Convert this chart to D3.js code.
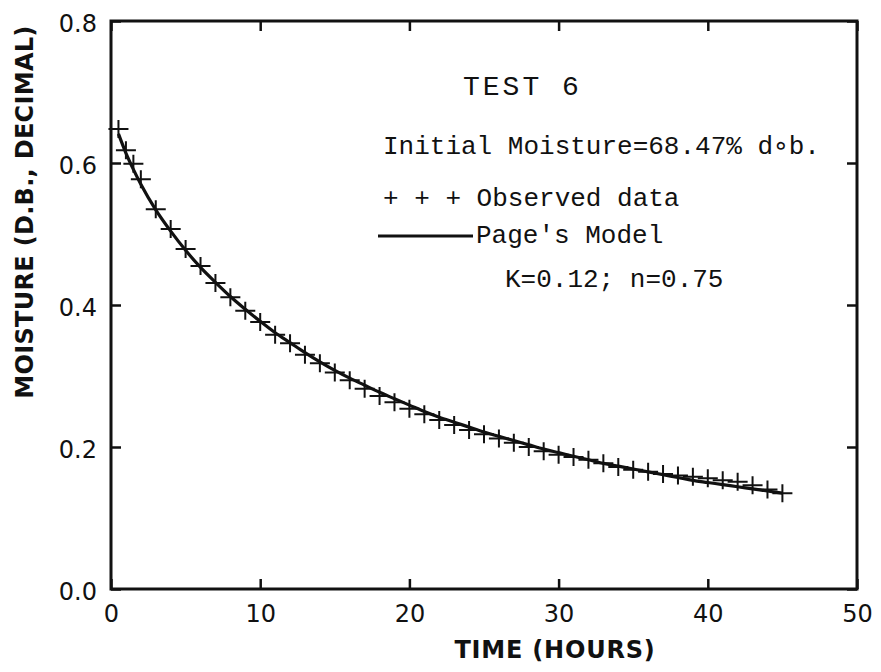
<!DOCTYPE html>
<html>
<head>
<meta charset="utf-8">
<script src="https://cdn.jsdelivr.net/npm/d3@7"></script>
<style>
  body { margin: 0; background: #fff; }
  svg { display: block; }
</style>
</head>
<body>
<div id="chart"></div>
<script>
// observed drying data (test 6)
const obsHours = [0.5, 1, 1.5, 2, 3, 4, 5, 6, 7, 8, 9, 10, 11, 12, 13, 14, 15, 16, 17, 18, 19, 20,
  21, 22, 23, 24, 25, 26, 27, 28, 29, 30, 31, 32, 33, 34, 35, 36, 37, 38, 39, 40, 41, 42, 43, 44, 45];
const obsMoisture = [0.648, 0.618, 0.599, 0.577, 0.535, 0.507, 0.479, 0.455, 0.431, 0.411, 0.392, 0.376,
  0.358, 0.346, 0.330, 0.318, 0.305, 0.294, 0.282, 0.272, 0.263, 0.254, 0.246, 0.238, 0.231, 0.224,
  0.218, 0.212, 0.206, 0.200, 0.194, 0.189, 0.186, 0.182, 0.177, 0.172, 0.168, 0.165, 0.162, 0.160,
  0.158, 0.156, 0.153, 0.151, 0.146, 0.140, 0.135];

// Page's model curve as drawn
const modelHours = obsHours;
const modelMoisture = [0.641, 0.614, 0.591, 0.570, 0.534, 0.504, 0.477, 0.453, 0.432, 0.412, 0.394, 0.377,
  0.361, 0.347, 0.333, 0.320, 0.308, 0.297, 0.287, 0.277, 0.268, 0.259, 0.250, 0.242, 0.235, 0.228,
  0.221, 0.215, 0.209, 0.203, 0.197, 0.192, 0.187, 0.182, 0.177, 0.173, 0.169, 0.165, 0.161, 0.157,
  0.153, 0.150, 0.147, 0.144, 0.141, 0.138, 0.135];

const xTicks = [0, 10, 20, 30, 40, 50];
const yTicks = [0, 0.2, 0.4, 0.6, 0.8];

const notes = [
  { text: "TEST 6", x: 463, y: 95, size: 28, spacing: 3 },
  { text: "Initial Moisture=68.47% d\u2218b.", x: 383, y: 154, size: 26, spacing: 0 },
  { text: "+ + + Observed data", x: 383, y: 206, size: 26, spacing: 0 },
  { text: "Page's Model", x: 476, y: 243, size: 26, spacing: 0 },
  { text: "K=0.12; n=0.75", x: 505, y: 287, size: 26, spacing: 0 }
];

const W = 881, H = 672;
const margin = { top: 21, right: 24, bottom: 83, left: 111 };
const width = W - margin.left - margin.right;
const height = H - margin.top - margin.bottom;

const svg = d3.select("#chart")
  .append("svg")
  .attr("width", W)
  .attr("height", H);

svg.append("rect").attr("width", W).attr("height", H).attr("fill", "#fff");

const g = svg.append("g")
  .attr("transform", `translate(${margin.left},${margin.top})`);

const x = d3.scaleLinear().domain([0, 50]).range([0, width]);
const y = d3.scaleLinear().domain([0, 0.8]).range([height, 0]);

const sans = "'DejaVu Sans', sans-serif";
const mono = "'Liberation Mono', 'DejaVu Sans Mono', monospace";

// bottom axis with inward ticks
const xAxis = g.append("g")
  .attr("transform", `translate(0,${height})`)
  .call(d3.axisBottom(x).tickValues(xTicks).tickSize(-10).tickPadding(16).tickFormat(d3.format("d")));
// top ticks
const xTop = g.append("g")
  .call(d3.axisTop(x).tickValues(xTicks).tickSize(-10).tickFormat(""));

const yAxis = g.append("g")
  .call(d3.axisLeft(y).tickValues(yTicks).tickSize(-10).tickPadding(14).tickFormat(d3.format(".1f")));
const yRight = g.append("g")
  .attr("transform", `translate(${width},0)`)
  .call(d3.axisRight(y).tickValues(yTicks).tickSize(-10).tickFormat(""));

[xAxis, xTop, yAxis, yRight].forEach(a => {
  a.select(".domain").remove();
  a.selectAll(".tick line").attr("stroke", "#111").attr("stroke-width", 2.5);
  a.selectAll("text").attr("fill", "#111").style("font-family", sans).style("font-size", "24px");
});
yAxis.selectAll("text").attr("dy", "0.42em");

// frame
g.append("rect")
  .attr("width", width).attr("height", height)
  .attr("fill", "none").attr("stroke", "#111").attr("stroke-width", 3);

// model line
const line = d3.line()
  .x((d, i) => x(modelHours[i]))
  .y(d => y(d))
  .curve(d3.curveMonotoneX);

g.append("path")
  .attr("d", line(modelMoisture))
  .attr("fill", "none").attr("stroke", "#111").attr("stroke-width", 3.2);

// observed crosses
g.selectAll(".obs")
  .data(obsMoisture)
  .enter().append("path")
  .attr("class", "obs")
  .attr("d", (d, i) => {
    const cx = x(obsHours[i]), cy = y(d);
    return `M${cx - 10},${cy}H${cx + 10}M${cx},${cy - 9}V${cy + 9}`;
  })
  .attr("stroke", "#111").attr("stroke-width", 2).attr("fill", "none");

// axis titles
svg.append("text")
  .attr("x", 555).attr("y", 658)
  .attr("text-anchor", "middle")
  .style("font-family", sans).style("font-weight", "bold").style("font-size", "24px")
  .style("letter-spacing", "0.8px")
  .attr("fill", "#111")
  .text("TIME (HOURS)");

svg.append("text")
  .attr("transform", "translate(33,212) rotate(-90)")
  .attr("text-anchor", "middle")
  .style("font-family", sans).style("font-weight", "bold").style("font-size", "24px")
  .style("letter-spacing", "0.3px")
  .attr("fill", "#111")
  .text("MOISTURE (D.B., DECIMAL)");

// annotations
svg.selectAll(".note")
  .data(notes)
  .enter().append("text")
  .attr("class", "note")
  .attr("x", d => d.x).attr("y", d => d.y)
  .style("font-family", mono)
  .style("font-size", d => d.size + "px")
  .style("letter-spacing", d => d.spacing + "px")
  .attr("fill", "#111")
  .text(d => d.text);

// legend line for the model
svg.append("line")
  .attr("x1", 378).attr("x2", 473).attr("y1", 236).attr("y2", 236)
  .attr("stroke", "#111").attr("stroke-width", 3);
</script>
</body>
</html>
